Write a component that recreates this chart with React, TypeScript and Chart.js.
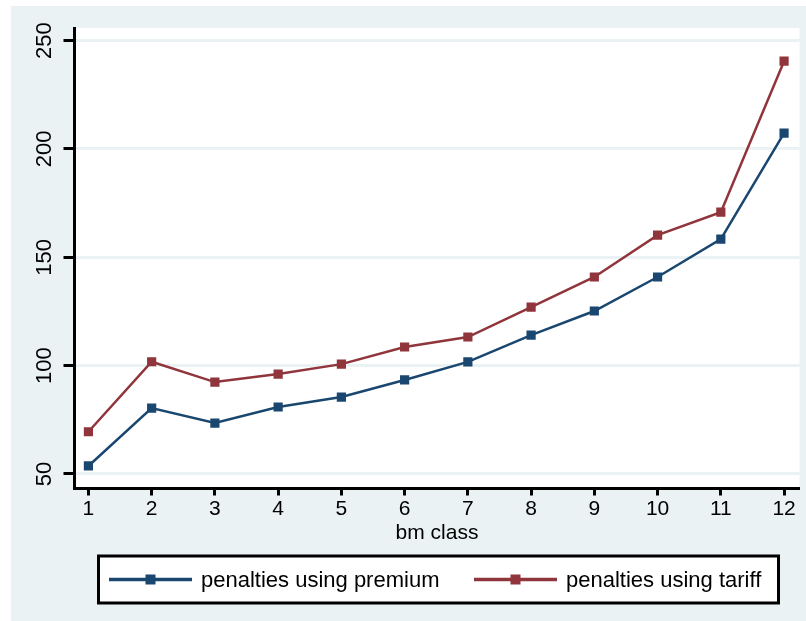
import React, { useEffect, useRef } from 'react';
import { Chart, registerables } from 'chart.js';

Chart.register(...registerables);

const bmClasses = [1, 2, 3, 4, 5, 6, 7, 8, 9, 10, 11, 12];
const premiumPenalties = [53.7, 80.4, 73.5, 80.9, 85.5, 93.4, 101.7, 114.1, 125.2, 140.9, 158.4, 207.3];
const tariffPenalties = [69.5, 101.8, 92.4, 96.1, 100.7, 108.6, 113.2, 127.0, 140.9, 160.2, 170.8, 240.5];
const yTicks = [50, 100, 150, 200, 250];
const seriesLabels = ['penalties using premium', 'penalties using tariff'];
const xTitle = 'bm class';

const BLUE = '#1a476f';
const RED = '#90353b';
const BG = '#eaf2f3';
const FONT = 'Liberation Sans, Arial, sans-serif';

const bgPlugin = {
  id: 'stataBackground',
  beforeDraw(chart: any) {
    const { ctx, width, height, chartArea } = chart;
    ctx.save();
    ctx.fillStyle = '#ffffff';
    ctx.fillRect(0, 0, width, height);
    ctx.fillStyle = BG;
    ctx.fillRect(11, 6, width - 11, height - 6);
    ctx.fillStyle = '#ffffff';
    ctx.fillRect(chartArea.left, chartArea.top, chartArea.right - chartArea.left, chartArea.bottom - chartArea.top);
    ctx.restore();
  },
};

const legendPlugin = {
  id: 'stataLegend',
  afterDraw(chart: any) {
    const { ctx } = chart;
    const boxLeft = 98.5;
    const boxTop = 556;
    const boxW = 680;
    const boxH = 47;
    const cy = boxTop + boxH / 2;
    ctx.save();
    ctx.fillStyle = '#ffffff';
    ctx.fillRect(boxLeft, boxTop, boxW, boxH);
    ctx.lineWidth = 3;
    ctx.strokeStyle = '#000000';
    ctx.strokeRect(boxLeft, boxTop, boxW, boxH);
    const offsets = [10.5, 375.5];
    chart.data.datasets.forEach((ds: any, i: number) => {
      const x0 = boxLeft + offsets[i];
      ctx.strokeStyle = ds.borderColor;
      ctx.lineWidth = 3.5;
      ctx.beginPath();
      ctx.moveTo(x0, cy);
      ctx.lineTo(x0 + 83, cy);
      ctx.stroke();
      ctx.fillStyle = ds.borderColor;
      ctx.fillRect(x0 + 41.5 - 5, cy - 5, 10, 10);
      ctx.fillStyle = '#000000';
      ctx.font = `22px ${FONT}`;
      ctx.textBaseline = 'middle';
      ctx.textAlign = 'left';
      ctx.fillText(ds.label, x0 + 92, cy + 1);
    });
    ctx.restore();
  },
};

export default function App() {
  const ref = useRef<HTMLCanvasElement>(null);

  useEffect(() => {
    if (!ref.current) return;
    const chart = new Chart(ref.current, {
      type: 'line',
      data: {
        datasets: [
          {
            label: seriesLabels[0],
            data: bmClasses.map((c, i) => ({ x: c, y: premiumPenalties[i] })),
            borderColor: BLUE,
            backgroundColor: BLUE,
            borderWidth: 2.5,
            pointStyle: 'rect',
            pointRadius: 6.5,
            pointBorderWidth: 0,
            tension: 0,
          },
          {
            label: seriesLabels[1],
            data: bmClasses.map((c, i) => ({ x: c, y: tariffPenalties[i] })),
            borderColor: RED,
            backgroundColor: RED,
            borderWidth: 2.5,
            pointStyle: 'rect',
            pointRadius: 6.5,
            pointBorderWidth: 0,
            tension: 0,
          },
        ],
      },
      options: {
        responsive: false,
        animation: false,
        devicePixelRatio: 1,
        layout: { padding: { left: 11, top: 28, right: 3, bottom: 0 } },
        plugins: { legend: { display: false }, tooltip: { enabled: false } },
        scales: {
          x: {
            type: 'linear',
            min: 0.78,
            max: 12.244,
            afterBuildTicks: (s: any) => {
              s.ticks = bmClasses.map((v) => ({ value: v }));
            },
            afterFit: (s: any) => {
              s.height = 132.5;
            },
            grid: { drawOnChartArea: false, drawTicks: true, tickLength: 7, tickColor: '#000', tickWidth: 3 },
            border: { display: true, color: '#000', width: 3 },
            ticks: {
              color: '#000',
              font: { family: FONT, size: 21 },
              padding: 1,
              maxRotation: 0,
              autoSkip: false,
              callback: (v: any) => String(v),
            },
            title: {
              display: true,
              text: xTitle,
              color: '#000',
              font: { family: FONT, size: 21 },
              padding: { top: 0, bottom: 75.4 },
            },
          },
          y: {
            type: 'linear',
            min: 43.3,
            max: 255.8,
            afterBuildTicks: (s: any) => {
              s.ticks = yTicks.map((v) => ({ value: v }));
            },
            afterFit: (s: any) => {
              s.width = 63.5;
            },
            grid: { color: BG, lineWidth: 3, drawTicks: true, tickLength: 11, tickColor: '#000', tickWidth: 3 },
            border: { display: true, color: '#000', width: 3 },
            ticks: {
              color: '#000',
              font: { family: FONT, size: 22 },
              padding: 0,
              minRotation: 90,
              maxRotation: 90,
              crossAlign: 'center',
              callback: (v: any) => String(v),
            },
          },
        },
      },
      plugins: [bgPlugin, legendPlugin],
    } as any);
    return () => chart.destroy();
  }, []);

  return (
    <div style={{ position: 'absolute', left: 0, top: 0, width: 806, height: 621 }}>
      <canvas ref={ref} width={806} height={621} />
    </div>
  );
}
